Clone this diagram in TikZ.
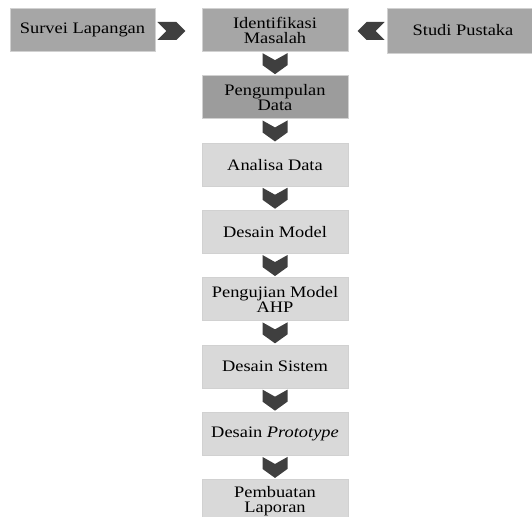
\documentclass[tikz,border=0pt]{standalone}
\usepackage{fontspec}
\setmainfont{Liberation Serif}[FakeStretch=1.15]
\usetikzlibrary{positioning, calc}
\definecolor{boxgrey}{HTML}{A6A6A6}
\definecolor{darkboxgrey}{HTML}{9C9C9C}
\definecolor{lightboxgrey}{HTML}{D9D9D9}
\definecolor{chevgrey}{HTML}{3F3F3F}
\tikzstyle{blok} = [rectangle,draw=black!18,line width=0.7pt,minimum width=146pt,minimum height=43pt,inner sep=0pt,align=center,font=\fontsize{16}{15}\selectfont]
\tikzstyle{chev} = [fill=chevgrey]
% panah ke bawah di antara dua blok
\newcommand{\chevturun}[2]{\fill[chev] ($(#1.south)!0.5!(#2.north)$) +(-12.5,-10.5) -- +(0,-3.5) -- +(12.5,-10.5) -- +(12.5,1.5) -- +(0,10.5) -- +(-12.5,1.5) -- cycle;}

\begin{document}
\begin{tikzpicture}[x=1pt,y=-1pt]
  \useasboundingbox (0,0) rectangle (532,516);
  % baris atas
  \node[blok,fill=boxgrey,minimum width=145pt] (survei) at (82.5,30) {Survei Lapangan};
  \node[blok,fill=boxgrey] (ident) at (275,30) {Identifikasi\\Masalah};
  \node[blok,fill=boxgrey,minimum width=152pt,minimum height=45pt] (studi) at (463,30.5) {Studi Pustaka};
  % kolom tengah
  \node[blok,fill=darkboxgrey] (kumpul) at (275,97.3) {Pengumpulan\\Data};
  \node[blok,fill=lightboxgrey] (analisa) at (275,164.6) {Analisa Data};
  \node[blok,fill=lightboxgrey] (model) at (275,231.9) {Desain Model};
  \node[blok,fill=lightboxgrey] (uji) at (275,299.2) {Pengujian Model\\AHP};
  \node[blok,fill=lightboxgrey] (sistem) at (275,366.5) {Desain Sistem};
  \node[blok,fill=lightboxgrey] (proto) at (275,433.8) {Desain \textit{Prototype}};
  \node[blok,fill=lightboxgrey] (laporan) at (275,501.1) {Pembuatan\\Laporan};
  % panah samping
  \fill[chev] ($(survei.east)+(2,1)$) +(0,-9) -- +(19,-9) -- +(28,0) -- +(19,9) -- +(0,9) -- +(9,0) -- cycle;
  \fill[chev] ($(studi.west)+(-2,0.5)$) +(0,-9) -- +(-18,-9) -- +(-27,0) -- +(-18,9) -- +(0,9) -- +(-9,0) -- cycle;
  % panah ke bawah
  \chevturun{ident}{kumpul}
  \chevturun{kumpul}{analisa}
  \chevturun{analisa}{model}
  \chevturun{model}{uji}
  \chevturun{uji}{sistem}
  \chevturun{sistem}{proto}
  \chevturun{proto}{laporan}
\end{tikzpicture}
\end{document}
